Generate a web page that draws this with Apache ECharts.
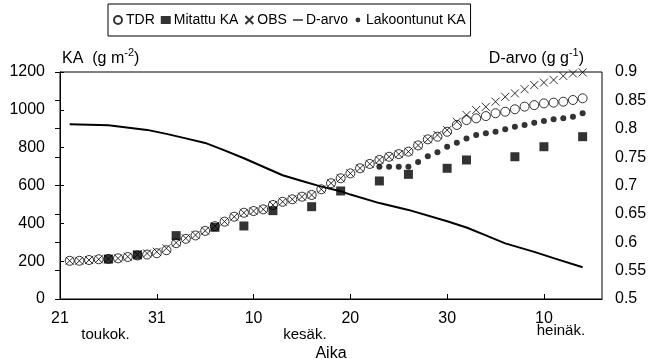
<!DOCTYPE html>
<html>
<head>
<meta charset="utf-8">
<script src="https://cdn.jsdelivr.net/npm/echarts@6/dist/echarts.min.js"></script>
<style>
  html, body { margin: 0; padding: 0; background: #fff; }
  #chart { width: 652px; height: 359px; }
</style>
</head>
<body>
<div id="chart"></div>
<script>
// Days counted from 21 May
const days = [1, 2, 3, 4, 5, 6, 7, 8, 9, 10, 11, 12, 13, 14, 15, 16, 17, 18, 19, 20,
  21, 22, 23, 24, 25, 26, 27, 28, 29, 30, 31, 32, 33, 34, 35, 36, 37, 38, 39, 40,
  41, 42, 43, 44, 45, 46, 47, 48, 49, 50, 51, 52, 53, 54];

// KA (g m-2), TDR estimate
const tdrValues = [202, 202, 206, 210, 212, 215, 222, 230, 235, 242, 258, 295, 318, 336, 360, 385, 409, 435, 456, 465,
  474, 497, 514, 527, 541, 550, 580, 612, 638, 664, 691, 714, 735, 752, 766, 779, 812, 844, 858, 884,
  920, 946, 955, 967, 982, 990, 1003, 1017, 1025, 1034, 1038, 1043, 1052, 1061];

// KA (g m-2), OBS estimate
const obsValues = [202, 202, 206, 210, 212, 215, 224, 235, 241, 250, 268, 298, 321, 338, 361, 385, 409, 435, 456, 465,
  474, 497, 514, 527, 541, 550, 580, 612, 638, 664, 691, 714, 735, 752, 766, 779, 812, 844, 867, 893,
  937, 973, 999, 1016, 1043, 1069, 1087, 1109, 1131, 1144, 1158, 1179, 1192, 1198];

// Measured KA (g m-2)
const mitattuDays = [5, 8, 12, 16, 19, 22, 26, 29, 33, 36, 40, 42, 47, 50, 54];
const mitattuValues = [211, 233, 335, 379, 386, 467, 488, 571, 624, 659, 691, 735, 752, 805, 858];

// Lodged crop KA (g m-2)
const lakoDays = [33, 34, 35, 36, 37, 38, 39, 40, 41, 42, 43, 44, 45, 46, 47, 48, 49, 50, 51, 52, 53, 54];
const lakoValues = [699, 699, 699, 699, 724, 754, 776, 805, 826, 849, 867, 876, 884, 897, 911, 920, 932, 941, 950, 955, 964, 982];

// D-value (g g-1)
const dDays = [1, 5, 9, 11, 13, 15, 17, 19, 21, 23, 25, 27, 29, 30, 33, 36, 40, 42, 44, 46, 49, 51, 54];
const dValues = [0.808, 0.806, 0.798, 0.791, 0.783, 0.775, 0.762, 0.748, 0.733, 0.718, 0.708, 0.698, 0.690, 0.684,
  0.669, 0.657, 0.637, 0.626, 0.612, 0.598, 0.583, 0.572, 0.556];

// Tick labels along the time axis
const dayTicks = [0, 10, 20, 30, 40, 50];
const dayTickLabels = ['21', '31', '10', '20', '30', '10'];
const monthPositions = [4.7, 25.3];
const monthLabels = ['toukok.', 'kesäk.'];
const julyLabel = 'heinäk.';

const pair = (xs, ys) => xs.map((x, i) => [x, ys[i]]);

const FONT = '"Liberation Sans", Arial, sans-serif';
const chart = echarts.init(document.getElementById('chart'), null, { renderer: 'canvas' });

const crossPath = 'path://M0,0L10,10M0,10L10,0';
const linePath = 'path://M0,0H16V2H0Z';
const smallDotPath = 'path://M0,0M10,10M2,5A3,3,0,1,0,8,5A3,3,0,1,0,2,5Z';

chart.setOption({
  animation: false,
  backgroundColor: '#fff',
  textStyle: { fontFamily: FONT, color: '#000' },
  grid: {
    left: 60, right: 50, top: 72, bottom: 60,
    outerBoundsMode: 'none',
    show: true, borderColor: '#000', borderWidth: 1, backgroundColor: 'transparent'
  },
  legend: {
    top: 4, left: 108,
    borderColor: '#000', borderWidth: 1,
    padding: [9, 5, 9, 5],
    itemGap: 6, itemWidth: 10, itemHeight: 8,
    textStyle: { fontFamily: FONT, fontSize: 14, color: '#000', padding: [0, 0, 0, -2] },
    data: [
      { name: 'TDR' },
      { name: 'Mitattu KA', icon: 'rect' },
      { name: 'OBS' },
      { name: 'D-arvo', icon: linePath },
      { name: 'Lakoontunut KA', icon: smallDotPath }
    ]
  },
  xAxis: [
    {
      type: 'value', min: 0, max: 56, interval: 10,
      axisLine: { show: true, lineStyle: { color: '#000', width: 1 } },
      axisTick: { inside: true, length: 5, lineStyle: { color: '#000' } },
      splitLine: { show: false },
      axisLabel: {
        showMaxLabel: false, showMinLabel: true,
        margin: 13, color: '#000', fontSize: 16, fontFamily: FONT,
        formatter: function (v) {
          const i = dayTicks.indexOf(Math.round(v));
          if (i < 0) return '';
          if (i === dayTicks.length - 1) return '{n|' + dayTickLabels[i] + '}\n{h|' + julyLabel + '}';
          return '{n|' + dayTickLabels[i] + '}';
        },
        rich: {
          n: { fontSize: 16, lineHeight: 13, fontFamily: FONT, color: '#000' },
          h: { fontSize: 15, lineHeight: 12, fontFamily: FONT, color: '#000', padding: [0, 0, 0, 34] }
        }
      },
      name: 'Aika', nameLocation: 'middle', nameGap: 47,
      nameTextStyle: { fontSize: 16, fontFamily: FONT, color: '#000' }
    },
    {
      type: 'value', min: 0, max: 56, position: 'bottom',
      axisLine: { show: false }, axisTick: { show: false }, splitLine: { show: false },
      axisLabel: {
        customValues: monthPositions,
        margin: 28, color: '#000', fontSize: 15, fontFamily: FONT,
        formatter: function (v) {
          const i = monthPositions.findIndex(p => Math.abs(p - v) < 0.01);
          return i < 0 ? '' : monthLabels[i];
        }
      }
    }
  ],
  yAxis: [
    {
      type: 'value', min: 0, max: 1200, interval: 200,
      axisLine: { show: true, lineStyle: { color: '#000', width: 1 } },
      axisTick: { show: true, inside: true, length: 4, lineStyle: { color: '#000' } },
      splitLine: { show: false },
      axisLabel: { margin: 15, color: '#000', fontSize: 16, fontFamily: FONT, formatter: v => String(v) }
    },
    {
      type: 'value', min: 0.5, max: 0.9, interval: 0.05, position: 'right',
      axisLine: { show: true, lineStyle: { color: '#000', width: 1 } },
      axisTick: { show: true, inside: true, length: 5, lineStyle: { color: '#000' } },
      splitLine: { show: false },
      axisLabel: {
        margin: 13, color: '#000', fontSize: 16, fontFamily: FONT,
        formatter: v => String(+v.toFixed(2))
      }
    }
  ],
  graphic: [
    {
      type: 'text', left: 62, top: 47,
      style: {
        text: '{t|KA  (g m}{s|-2}{t|)}',
        rich: {
          t: { fontSize: 16, fontFamily: FONT, fill: '#000', lineHeight: 20, verticalAlign: 'bottom' },
          s: { fontSize: 11, fontFamily: FONT, fill: '#000', lineHeight: 20, verticalAlign: 'top' }
        }
      }
    },
    {
      type: 'text', right: 68, top: 47,
      style: {
        text: '{t|D-arvo (g g}{s|-1}{t|)}',
        rich: {
          t: { fontSize: 16, fontFamily: FONT, fill: '#000', lineHeight: 20, verticalAlign: 'bottom' },
          s: { fontSize: 11, fontFamily: FONT, fill: '#000', lineHeight: 20, verticalAlign: 'top' }
        }
      }
    }
  ],
  series: [
    {
      name: 'TDR', type: 'scatter', xAxisIndex: 0, yAxisIndex: 0,
      data: pair(days, tdrValues),
      symbol: 'circle', symbolSize: 9,
      itemStyle: { color: 'rgba(255,255,255,0)', borderColor: '#000', borderWidth: 1 },
      z: 3
    },
    {
      name: 'Mitattu KA', type: 'scatter', xAxisIndex: 0, yAxisIndex: 0,
      data: pair(mitattuDays, mitattuValues),
      symbol: 'rect', symbolSize: 9,
      itemStyle: { color: '#000' },
      z: 4
    },
    {
      name: 'OBS', type: 'scatter', xAxisIndex: 0, yAxisIndex: 0,
      data: pair(days, obsValues),
      symbol: crossPath, symbolSize: 8,
      itemStyle: { color: 'rgba(255,255,255,0)', borderColor: '#000', borderWidth: 1 },
      z: 3
    },
    {
      name: 'D-arvo', type: 'line', xAxisIndex: 0, yAxisIndex: 1,
      data: pair(dDays, dValues),
      symbol: 'none', smooth: false,
      lineStyle: { color: '#000', width: 2 },
      itemStyle: { color: '#000' },
      z: 2
    },
    {
      name: 'Lakoontunut KA', type: 'scatter', xAxisIndex: 0, yAxisIndex: 0,
      data: pair(lakoDays, lakoValues),
      symbol: 'circle', symbolSize: 6,
      itemStyle: { color: '#000' },
      z: 4
    }
  ]
});
</script>
</body>
</html>
